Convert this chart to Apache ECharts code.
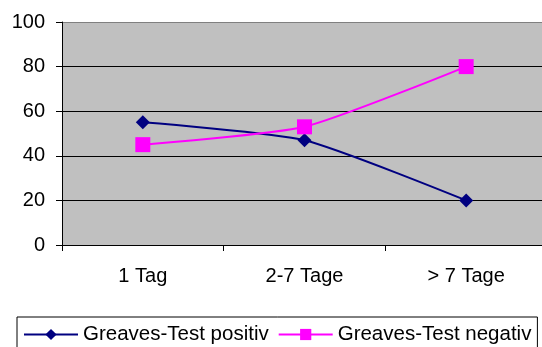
<!DOCTYPE html>
<html><head><meta charset="utf-8">
<script src="https://cdn.jsdelivr.net/npm/echarts@6/dist/echarts.min.js"></script>
<style>html,body{margin:0;padding:0;background:#fff}#c{width:542px;height:347px}</style>
</head><body><div id="c"></div>
<script>
var categories = ['1 Tag', '2-7 Tage', '> 7 Tage'];
var positiv = [55, 47, 20];
var negativ = [45, 53, 80];
var seriesNames = ['Greaves-Test positiv', 'Greaves-Test negativ'];
var yTicks = [0, 20, 40, 60, 80, 100];

var FONT = 'Liberation Sans, Arial, sans-serif';
var chart = echarts.init(document.getElementById('c'));
chart.setOption({
  animation: false,
  backgroundColor: '#fff',
  grid: {left: 62, top: 22, height: 223, width: 485, outerBoundsMode: 'none', containLabel: false,
         show: true, backgroundColor: '#C0C0C0', borderWidth: 0},
  xAxis: {
    type: 'category', data: categories, boundaryGap: true,
    axisLine: {lineStyle: {color: '#000', width: 1}},
    axisTick: {show: true, length: 6, lineStyle: {color: '#000'}},
    axisLabel: {color: '#000', fontFamily: FONT, fontSize: 20, margin: 21}
  },
  yAxis: {
    type: 'value', min: yTicks[0], max: yTicks[yTicks.length - 1], interval: 20,
    axisLine: {show: true, lineStyle: {color: '#000', width: 1}},
    axisTick: {show: true, length: 6, lineStyle: {color: '#000'}},
    axisLabel: {color: '#000', fontFamily: FONT, fontSize: 20, margin: 17},
    splitLine: {show: true, lineStyle: {color: ['#000', '#000', '#000', '#000', '#000', '#808080'], width: 1}}
  },
  legend: {
    left: 17, top: 317, padding: [7, 6, 30, 6], itemGap: 9,
    itemWidth: 54, itemHeight: 14,
    borderColor: '#000', borderWidth: 1,
    textStyle: {color: '#000', fontFamily: FONT, fontSize: 20.5},
    data: seriesNames
  },
  series: [
    {name: seriesNames[0], type: 'line', data: positiv, smooth: 0.2,
     symbol: 'diamond', symbolSize: 14,
     lineStyle: {color: '#000080', width: 2}, itemStyle: {color: '#000080'}},
    {name: seriesNames[1], type: 'line', data: negativ, smooth: 0.2,
     symbol: 'rect', symbolSize: 15,
     lineStyle: {color: '#FF00FF', width: 2}, itemStyle: {color: '#FF00FF'}}
  ]
});
</script></body></html>
